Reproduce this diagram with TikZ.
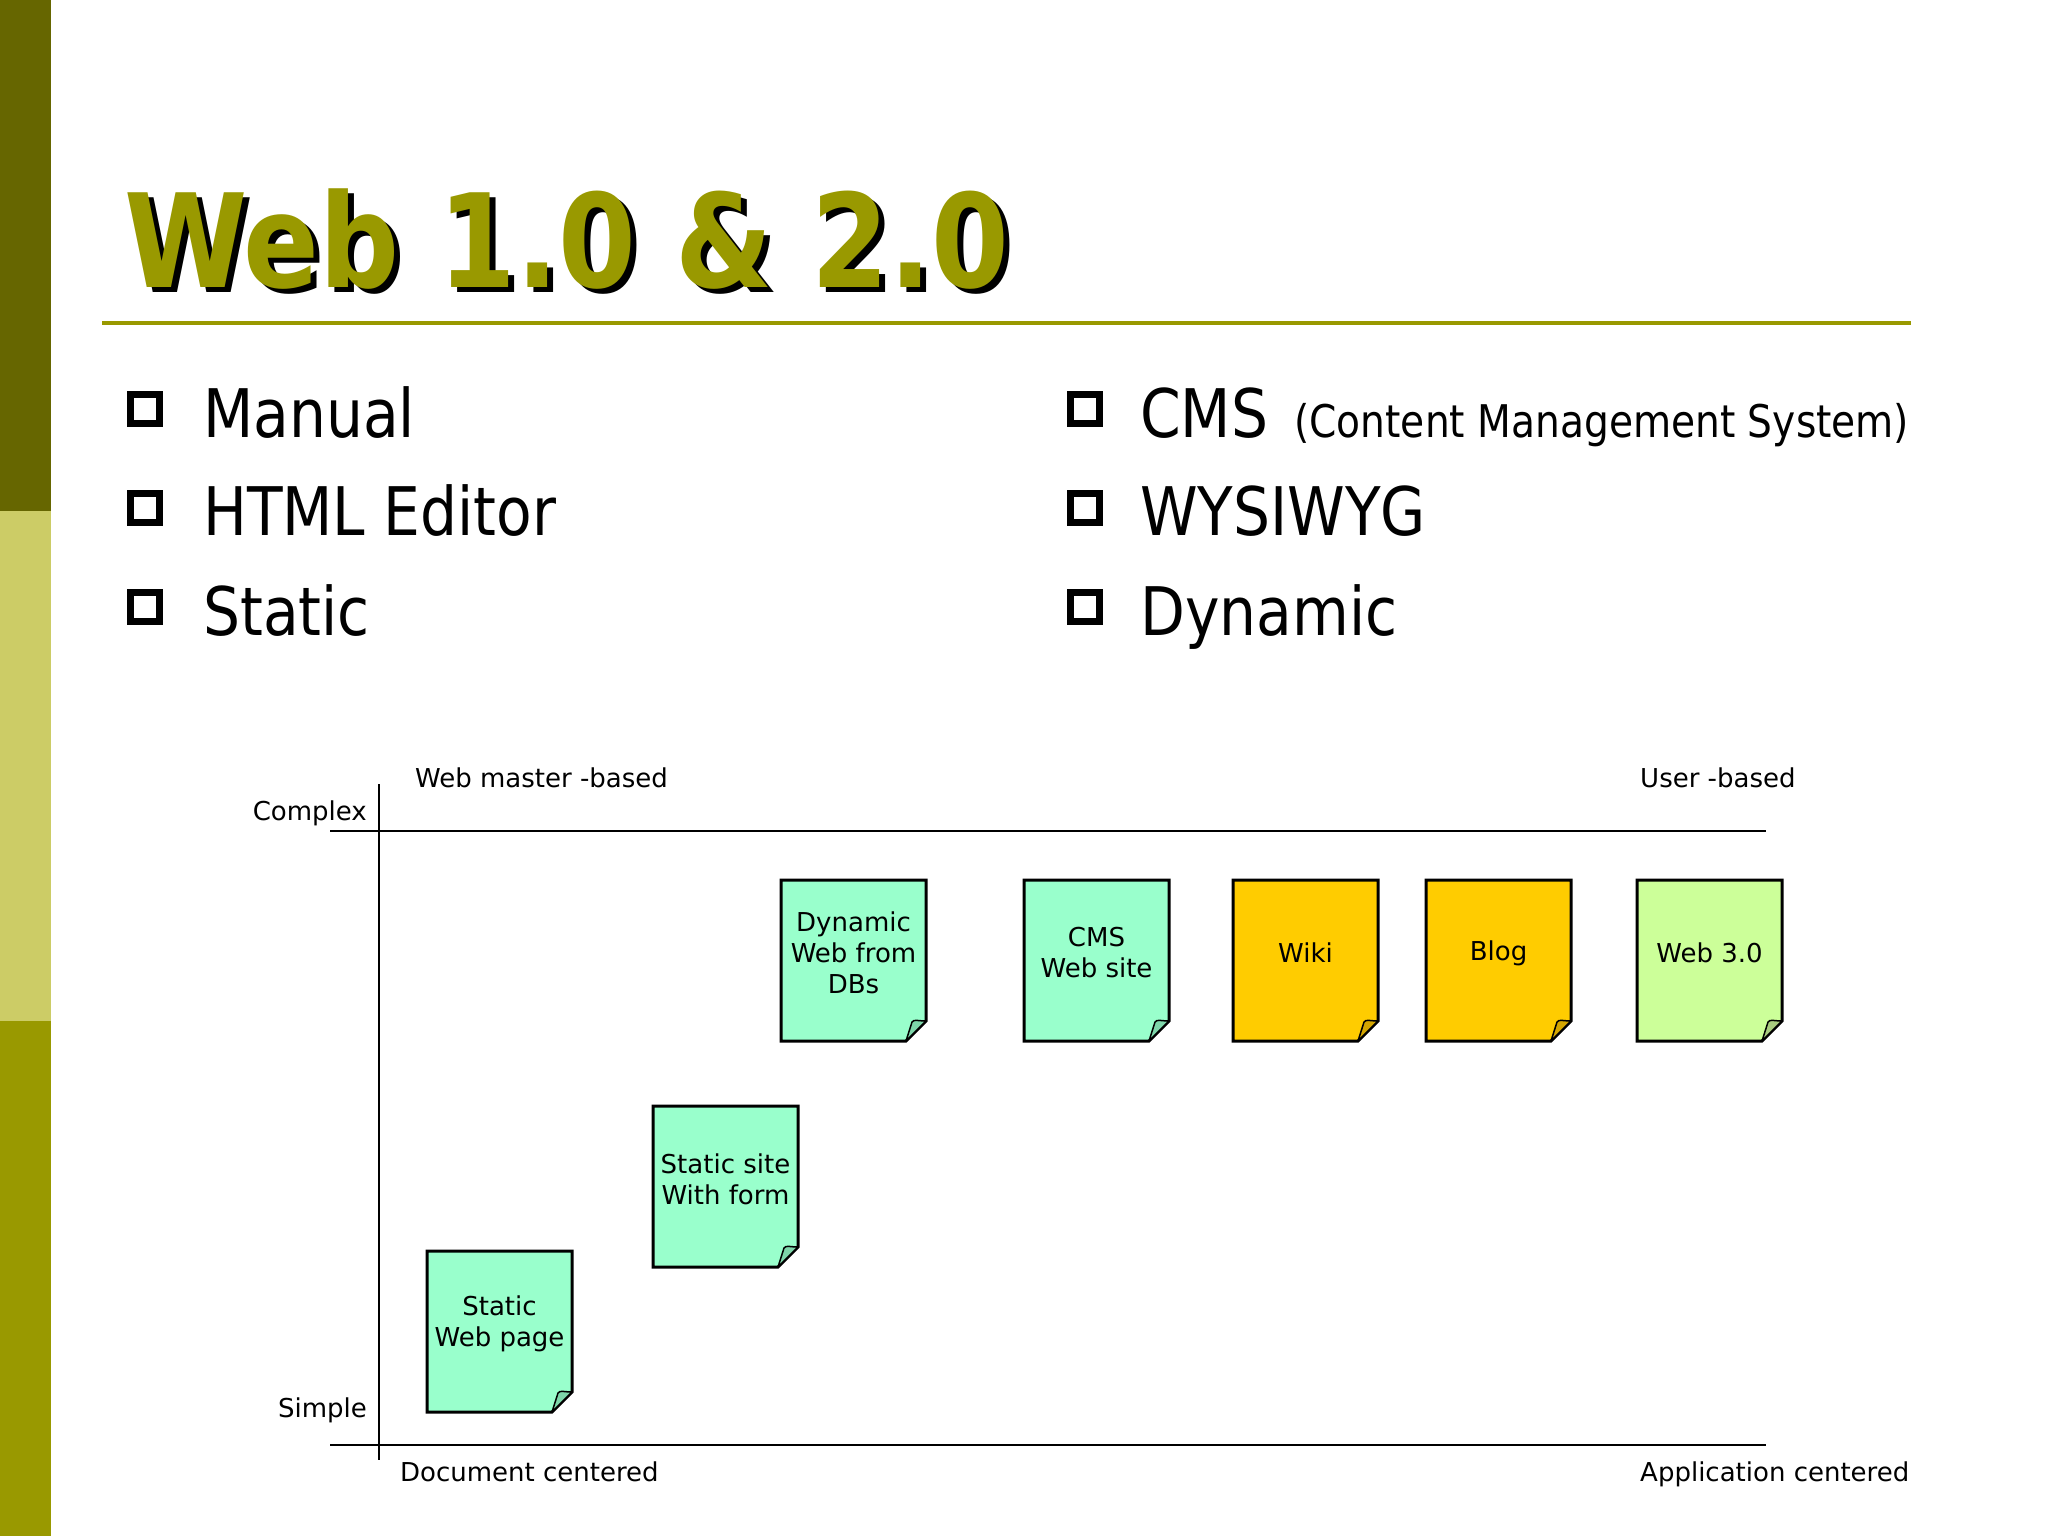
\documentclass[tikz,border=0pt]{standalone}
\usepackage{fontspec}
\usetikzlibrary{calc}
\newfontfamily\notefont{DejaVu Sans}
\newfontfamily\bodyfont{DejaVu Sans}[FakeStretch=0.87]
\newfontfamily\titlefont{DejaVu Sans}[FakeStretch=0.86]
\definecolor{olivedark}{HTML}{666600}
\definecolor{olivelight}{HTML}{CCCC66}
\definecolor{olive}{HTML}{999900}
\definecolor{mint}{HTML}{99FFCC}
\definecolor{mintfold}{HTML}{7ED6AA}
\definecolor{gold}{HTML}{FFCC00}
\definecolor{goldfold}{HTML}{D4A600}
\definecolor{lime}{HTML}{CCFF99}
\definecolor{limefold}{HTML}{A9CC80}
\tikzset{
  notebox/.style={draw=black, line width=3pt, line join=miter},
  flap/.style={draw=black, line width=1.5pt, line join=round},
  notetxt/.style={font=\notefont\fontsize{26}{31}\selectfont, align=center, inner sep=0pt},
  axisline/.style={draw=black, line width=2.5pt},
  lbl/.style={font=\notefont\fontsize{26}{31}\selectfont, inner sep=0pt},
  bulletsq/.style={draw=black, line width=7pt, minimum size=29pt, inner sep=0pt, fill=white},
  bullettxt/.style={font=\bodyfont\fontsize{67}{80}\selectfont, inner sep=0pt, anchor=base west},
  smalltxt/.style={font=\bodyfont\fontsize{45}{54}\selectfont, inner sep=0pt, anchor=base west},
  titletxt/.style={font=\titlefont\bfseries\fontsize{130}{150}\selectfont, inner sep=0pt, anchor=base west},
}
\newcommand{\stickynote}[6]{%
  \begin{scope}[shift={(#2,#3)}]
    \draw[notebox, fill=#4] (0,0) -- (145,0) -- (145,141) -- (125,161) -- (0,161) -- cycle;
    \draw[flap, fill=#5] (125,161) -- (131,142) .. controls (133,139) and (137,141) .. (145,141) -- cycle;
    \node[notetxt] (#1) at (72.5,73) {#6};
  \end{scope}
}
\newcommand{\shadowed}[1]{\makebox[0pt][l]{\kern6pt\raisebox{-5pt}{\textcolor{black}{#1}}}\textcolor{olive}{#1}}
\begin{document}
\begin{tikzpicture}[x=1pt,y=-1pt]
\useasboundingbox (0,0) rectangle (2048,1536);
\fill[white] (0,0) rectangle (2048,1536);
% left bar
\fill[olivedark] (0,0) rectangle (51,511);
\fill[olivelight] (0,511) rectangle (51,1021);
\fill[olive] (0,1021) rectangle (51,1536);
% title (with drop shadow)
\node[titletxt] (title) at (124,287) {\shadowed{Web 1.0 \& 2.0}};
\coordinate (ruleL) at (102,323);
\coordinate (ruleR) at (1911,323);
\draw[olive, line width=4pt] (ruleL) -- (ruleR);
% bullets left
\node[bulletsq] (b1) at (145,409) {};
\node[bulletsq] (b2) at (145,508) {};
\node[bulletsq] (b3) at (145,607) {};
\node[bullettxt] (t1) at (203,437) {Manual};
\node[bullettxt] (t2) at (203,535) {HTML Editor};
\node[bullettxt] (t3) at (203,635) {Static};
% bullets right
\node[bulletsq] (b4) at (1085,409) {};
\node[bulletsq] (b5) at (1085,508) {};
\node[bulletsq] (b6) at (1085,607) {};
\node[bullettxt] (t4) at (1140,437) {CMS};
\node[smalltxt] (t4b) at (1294,437) {(Content Management System)};
\node[bullettxt] (t5) at (1140,535) {WYSIWYG};
\node[bullettxt] (t6) at (1140,635) {Dynamic};
% axes
\coordinate (vtop) at (379,784);
\coordinate (vbot) at (379,1460);
\coordinate (htl) at (330,831);
\coordinate (htr) at (1766,831);
\coordinate (hbl) at (330,1445);
\coordinate (hbr) at (1766,1445);
\draw[axisline] (vtop) -- (vbot);
\draw[axisline] (htl) -- (htr);
\draw[axisline] (hbl) -- (hbr);
\node[lbl, anchor=base east] (complex) at (367,820) {Complex};
\node[lbl, anchor=base east] (simple) at (367,1417) {Simple};
\node[lbl, anchor=base west] (webmaster) at (415,787) {Web master -based};
\node[lbl, anchor=base west] (userbased) at (1640,787) {User -based};
\node[lbl, anchor=base west] (doccent) at (400,1481) {Document centered};
\node[lbl, anchor=base west] (appcent) at (1640,1481) {Application centered};
% notes
\stickynote{n1}{427}{1251}{mint}{mintfold}{Static\\Web page}
\stickynote{n2}{653}{1106}{mint}{mintfold}{Static site\\With form}
\stickynote{n3}{781}{880}{mint}{mintfold}{Dynamic\\Web from\\DBs}
\stickynote{n4}{1024}{880}{mint}{mintfold}{CMS\\Web site}
\stickynote{n5}{1233}{880}{gold}{goldfold}{Wiki}
\stickynote{n6}{1426}{880}{gold}{goldfold}{Blog}
\stickynote{n7}{1637}{880}{lime}{limefold}{Web 3.0}
\end{tikzpicture}
\end{document}
